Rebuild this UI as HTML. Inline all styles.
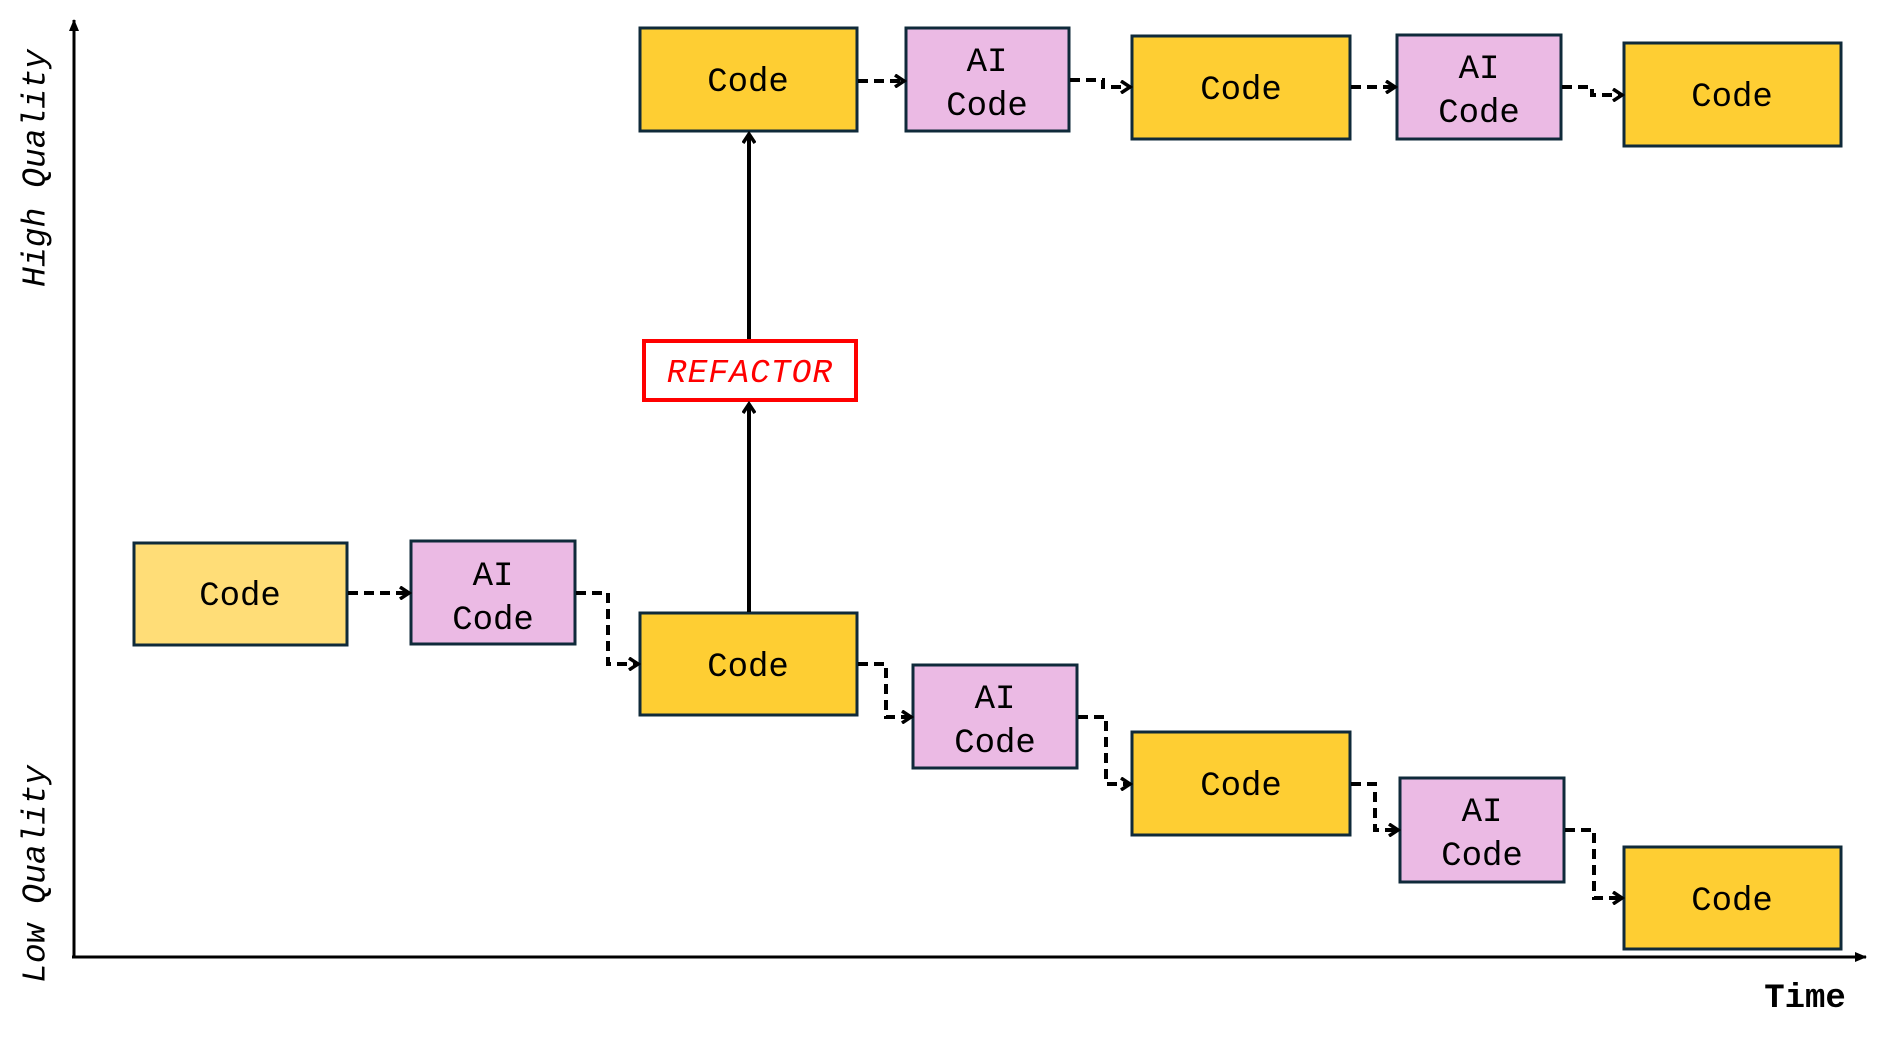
<!DOCTYPE html>
<html><head><meta charset="utf-8"><style>
html,body{margin:0;padding:0;background:#fff;width:1891px;height:1040px;overflow:hidden}
svg{display:block}
text{font-family:"Liberation Mono",monospace}
</style></head><body>
<svg width="1891" height="1040" viewBox="0 0 1891 1040" xmlns="http://www.w3.org/2000/svg">
<defs>
<marker id="open" markerWidth="14" markerHeight="14" refX="11" refY="7" orient="auto" markerUnits="userSpaceOnUse">
<path d="M2,1 L11,7 L2,13" fill="none" stroke="#000" stroke-width="3.5"/>
</marker>
<marker id="solid" markerWidth="12" markerHeight="12" refX="11" refY="6" orient="auto" markerUnits="userSpaceOnUse">
<path d="M0,1 L12,6 L0,11 z" fill="#000"/>
</marker>
</defs>
<!-- axes -->
<line x1="74" y1="957" x2="74" y2="20" stroke="#000" stroke-width="3" marker-end="url(#solid)"/>
<line x1="72" y1="957" x2="1866" y2="957" stroke="#000" stroke-width="3" marker-end="url(#solid)"/>
<text x="36" y="168" transform="rotate(-90 36 168)" font-size="33" font-style="italic" text-anchor="middle" dominant-baseline="central">High Quality</text>
<text x="36" y="874" transform="rotate(-90 36 874)" font-size="33" font-style="italic" text-anchor="middle" dominant-baseline="central">Low Quality</text>
<text x="1805" y="1007" font-size="34" text-anchor="middle" font-weight="bold">Time</text>

<g stroke="#0f2a3a" stroke-width="3">
<rect x="134" y="543" width="213" height="102" fill="#ffdd77"/>
<rect x="411" y="541" width="164" height="103" fill="#ebbae4"/>
<rect x="640" y="613" width="217" height="102" fill="#fece33"/>
<rect x="640" y="28" width="217" height="103" fill="#fece33"/>
<rect x="906" y="28" width="163" height="103" fill="#ebbae4"/>
<rect x="1132" y="36" width="218" height="103" fill="#fece33"/>
<rect x="1397" y="35" width="164" height="104" fill="#ebbae4"/>
<rect x="1624" y="43" width="217" height="103" fill="#fece33"/>
<rect x="913" y="665" width="164" height="103" fill="#ebbae4"/>
<rect x="1132" y="732" width="218" height="103" fill="#fece33"/>
<rect x="1400" y="778" width="164" height="104" fill="#ebbae4"/>
<rect x="1624" y="847" width="217" height="102" fill="#fece33"/>
</g>
<rect x="644" y="341" width="212" height="59" fill="#fff" stroke="#ff0000" stroke-width="4"/>
<text x="750" y="382" font-size="33" font-style="italic" fill="#ff0000" text-anchor="middle" letter-spacing="1">REFACTOR</text>

<g font-size="34" text-anchor="middle" fill="#000">
<text x="240" y="605">Code</text>
<text x="493" y="585">AI</text><text x="493" y="629">Code</text>
<text x="748" y="676">Code</text>
<text x="748" y="91">Code</text>
<text x="987" y="71">AI</text><text x="987" y="115">Code</text>
<text x="1241" y="99">Code</text>
<text x="1479" y="78">AI</text><text x="1479" y="122">Code</text>
<text x="1732" y="106">Code</text>
<text x="995" y="708">AI</text><text x="995" y="752">Code</text>
<text x="1241" y="795">Code</text>
<text x="1482" y="821">AI</text><text x="1482" y="865">Code</text>
<text x="1732" y="910">Code</text>
</g>

<!-- solid arrows -->
<g stroke="#000" stroke-width="4" fill="none">
<line x1="749" y1="612" x2="749" y2="404" marker-end="url(#open)"/>
<line x1="749" y1="339" x2="749" y2="134" marker-end="url(#open)"/>
</g>
<!-- dashed connectors -->
<g stroke="#000" stroke-width="4" fill="none" stroke-dasharray="10,6">
<path d="M348,593 L409,593" marker-end="url(#open)"/>
<path d="M576,593 L608,593 L608,664 L638,664" marker-end="url(#open)"/>
<path d="M858,81 L904,81" marker-end="url(#open)"/>
<path d="M1070,80 L1103,80 L1103,87 L1130,87" marker-end="url(#open)"/>
<path d="M1351,87 L1395,87" marker-end="url(#open)"/>
<path d="M1562,87 L1592,87 L1592,95 L1622,95" marker-end="url(#open)"/>
<path d="M858,664 L886,664 L886,717 L911,717" marker-end="url(#open)"/>
<path d="M1078,717 L1106,717 L1106,784 L1130,784" marker-end="url(#open)"/>
<path d="M1351,784 L1375,784 L1375,830 L1398,830" marker-end="url(#open)"/>
<path d="M1565,830 L1594,830 L1594,898 L1622,898" marker-end="url(#open)"/>
</g>
</svg>
</body></html>
